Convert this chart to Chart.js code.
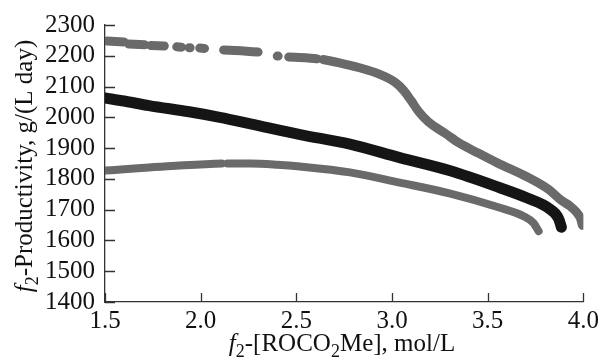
<!DOCTYPE html>
<html>
<head>
<meta charset="utf-8">
<script src="https://cdn.jsdelivr.net/npm/chart.js@4"></script>
<style>
  html, body { margin: 0; padding: 0; background: #fff; }
  #wrap { width: 603px; height: 358px; }
</style>
</head>
<body>
<div id="wrap"><canvas id="chart" width="603" height="358"></canvas></div>
<script>
// --- data ---
const xTicks = [1.5, 2.0, 2.5, 3.0, 3.5, 4.0];
const xTickLabels = ['1.5', '2.0', '2.5', '3.0', '3.5', '4.0'];
const yTicks = [1400, 1500, 1600, 1700, 1800, 1900, 2000, 2100, 2200, 2300];
const yTickLabels = ['1400', '1500', '1600', '1700', '1800', '1900', '2000', '2100', '2200', '2300'];

// upper grey curve (null = gap in the dotted part)
const upperX = [1.51, 1.60, 1.61, 1.625, 1.708, 1.72, 1.74, 1.81, 1.83, 1.875, 1.90, 1.92,
                1.94, 1.945, 1.97, 1.995, 2.02, 2.07, 2.12, 2.21, 2.30, 2.35, 2.40, 2.405, 2.43,
                2.46, 2.56, 2.61, 2.625, 2.64, 2.72, 2.83, 2.93, 3.02, 3.06, 3.10, 3.14,
                3.19, 3.28, 3.35, 3.45, 3.55, 3.71, 3.82, 3.885, 3.93, 3.965, 3.985, 3.995];
const upperY = [2248, 2245, null, 2238, 2236, null, 2233, 2232, null, 2229, 2228, null,
                2226, 2226, null, 2225, 2224, null, 2219, 2216, 2212, null, 2199, 2199, null,
                2196, 2193, 2190, null, 2188, 2178, 2161, 2141, 2112, 2088, 2054, 2018,
                1985, 1947, 1917, 1884, 1852, 1805, 1765, 1730, 1712, 1691, 1672, 1649];

// middle black curve
const middleX = [1.50, 1.60, 1.73, 1.94, 2.10, 2.26, 2.52, 2.78, 3.04, 3.30, 3.56, 3.71, 3.82, 3.87, 3.885];
const middleY = [2063, 2053, 2038, 2018, 2000, 1979, 1944, 1913, 1869, 1827, 1772, 1737, 1704, 1672, 1643];

// lower grey curve
const lowerX = [1.50, 1.60, 1.73, 1.87, 2.00, 2.11, 2.125, 2.14, 2.26, 2.40, 2.52, 2.78, 3.04, 3.30, 3.56, 3.69, 3.74, 3.766];
const lowerY = [1827, 1831, 1837, 1843, 1847, 1850, null, 1850, 1850, 1846, 1840, 1821, 1788, 1753, 1707, 1678, 1656, 1630];

const GREY = '#6a6a6a';
const BLACK = '#151515';
const FONT = '"Liberation Serif", "Times New Roman", serif';
const FONT_SIZE = 25;

function toPoints(xs, ys) {
    return xs.map((x, i) => ({ x: x, y: ys[i] }));
}

function curve(xs, ys, color, width) {
    return {
        data: toPoints(xs, ys),
        showLine: true,
        borderColor: color,
        backgroundColor: color,
        borderWidth: width,
        borderCapStyle: 'round',
        borderJoinStyle: 'round',
        pointRadius: 0,
        spanGaps: false,
        cubicInterpolationMode: 'monotone'
    };
}

function fontFor(p) {
    const size = p.sub ? Math.round(FONT_SIZE * 0.7) : FONT_SIZE;
    return (p.italic ? 'italic ' : '') + size + 'px ' + FONT;
}

// draws text pieces with italic / subscript parts, centred on x
function drawRich(ctx, parts, x, y) {
    const widths = parts.map(p => {
        ctx.font = fontFor(p);
        return ctx.measureText(p.t).width;
    });
    const total = widths.reduce((a, b) => a + b, 0);
    let cx = x - total / 2;
    parts.forEach((p, i) => {
        ctx.font = fontFor(p);
        ctx.fillText(p.t, cx, p.sub ? y + 6 : y);
        cx += widths[i];
    });
}

const xTitle = [{ t: 'f', italic: true }, { t: '2', sub: true }, { t: '-[ROCO' }, { t: '2', sub: true }, { t: 'Me], mol/L' }];
const yTitle = [{ t: 'f', italic: true }, { t: '2', sub: true }, { t: '-Productivity, g/(L day)' }];

// inward tick marks + axis titles
const axisDecor = {
    id: 'axisDecor',
    afterDraw(chart) {
        const { ctx, chartArea, scales } = chart;
        ctx.save();
        ctx.strokeStyle = '#333';
        ctx.lineWidth = 1.3;
        ctx.beginPath();
        xTicks.forEach(v => {
            const px = Math.round(scales.x.getPixelForValue(v)) + 0.5;
            ctx.moveTo(px, chartArea.bottom);
            ctx.lineTo(px, chartArea.bottom - 9);
        });
        yTicks.forEach(v => {
            const py = Math.round(scales.y.getPixelForValue(v)) + 0.5;
            ctx.moveTo(chartArea.left, py);
            ctx.lineTo(chartArea.left + 10, py);
        });
        ctx.stroke();

        ctx.fillStyle = '#111';
        ctx.textBaseline = 'alphabetic';
        ctx.textAlign = 'left';
        drawRich(ctx, xTitle, 342, 351);

        ctx.translate(32, 166);
        ctx.rotate(-Math.PI / 2);
        drawRich(ctx, yTitle, 0, 0);
        ctx.restore();
    }
};

new Chart(document.getElementById('chart'), {
    type: 'scatter',
    data: {
        datasets: [
            curve(upperX, upperY, GREY, 9),
            curve(lowerX, lowerY, GREY, 8),
            curve(middleX, middleY, BLACK, 11)
        ]
    },
    options: {
        responsive: false,
        animation: false,
        layout: { padding: { top: 24, right: 18, left: 0, bottom: 0 } },
        plugins: { legend: { display: false }, tooltip: { enabled: false } },
        scales: {
            x: {
                type: 'linear',
                min: 1.5,
                max: 4.0,
                afterBuildTicks: s => { s.ticks = xTicks.map(v => ({ value: v })); },
                afterFit: s => { s.height = 56; },
                grid: { display: false, drawTicks: false },
                border: { display: true, color: '#333', width: 1.3 },
                ticks: {
                    color: '#111',
                    font: { family: FONT, size: FONT_SIZE },
                    padding: 4,
                    maxRotation: 0,
                    autoSkip: false,
                    callback: (v, i) => xTickLabels[i]
                }
            },
            y: {
                type: 'linear',
                min: 1400,
                max: 2300,
                afterBuildTicks: s => { s.ticks = yTicks.map(v => ({ value: v })); },
                afterFit: s => { s.width = 105; },
                grid: { display: false, drawTicks: false },
                border: { display: true, color: '#333', width: 1.3 },
                ticks: {
                    color: '#111',
                    font: { family: FONT, size: FONT_SIZE },
                    padding: 10,
                    autoSkip: false,
                    callback: (v, i) => yTickLabels[i]
                }
            }
        }
    },
    plugins: [axisDecor]
});
</script>
</body>
</html>
